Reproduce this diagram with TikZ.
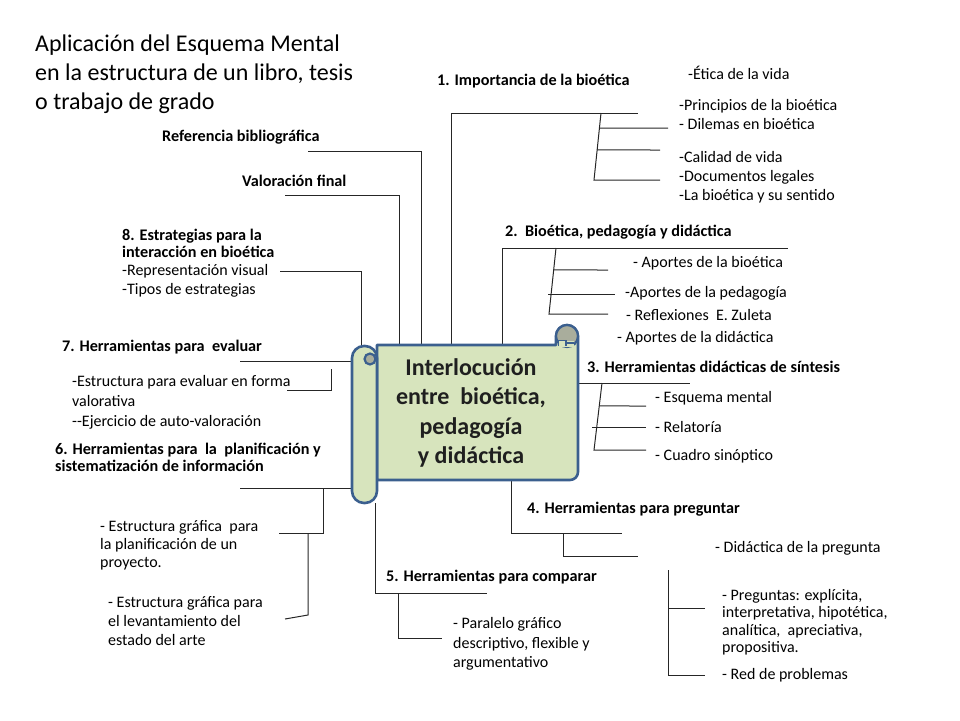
\documentclass[tikz,border=0pt]{standalone}
\usepackage{fontspec}
\setmainfont{Carlito}
\usetikzlibrary{calc}
\definecolor{panel}{HTML}{D7E4BD}
\definecolor{sborder}{HTML}{3B5F8E}
\definecolor{curlgray}{HTML}{A9AD9C}
\begin{document}
\begin{tikzpicture}[x=1pt,y=-1pt,
  conn/.style={draw=black!85,line width=1pt},
  lab/.style={font=\fontsize{16}{19}\selectfont,inner sep=0pt,anchor=west,align=left},
  blab/.style={lab,font=\bfseries\fontsize{16.2}{17.5}\selectfont},
  tit/.style={font=\fontsize{24}{29}\selectfont,inner sep=0pt,anchor=west,align=left},
  scrollpart/.style={fill=panel,draw=sborder,line width=2.6pt,line join=round},
  curlpart/.style={fill=curlgray,draw=sborder,line width=2.2pt}]
\useasboundingbox (0,0) rectangle (960,720);
% ---------- coordinates ----------
% branch 1
\coordinate (b1a) at (451,345); \coordinate (b1b) at (451,113); \coordinate (b1c) at (638,113);
\coordinate (s1t) at (601,113); \coordinate (s1b) at (594,180);
\coordinate (s1m1) at ($(s1t)!0.224!(s1b)$); \coordinate (s1m2) at ($(s1t)!0.552!(s1b)$);
\coordinate (e1a) at (668,128); \coordinate (e1b) at (660,150); \coordinate (e1c) at (660,180);
% branch 2
\coordinate (b2a) at (502,345); \coordinate (b2b) at (502,248); \coordinate (b2c) at (788,248);
\coordinate (s2t) at (556,248); \coordinate (s2b) at (549,314);
\coordinate (s2m1) at ($(s2t)!0.333!(s2b)$);
\coordinate (e2a) at (608,270); \coordinate (f2b) at (548,294); \coordinate (e2b) at (615,294); \coordinate (e2c) at (608,314);
% branch 3
\coordinate (b3a) at (578,383); \coordinate (b3b) at (690,383);
\coordinate (s3t) at (602,383); \coordinate (s3b) at (594,450);
\coordinate (s3m1) at ($(s3t)!0.343!(s3b)$);
\coordinate (e3a) at (646,406); \coordinate (f3b) at (592,427); \coordinate (e3b) at (646,427); \coordinate (e3c) at (646,450);
% branch 4
\coordinate (b4a) at (511,480); \coordinate (b4b) at (511,533); \coordinate (b4c) at (622,533);
\coordinate (s4a) at (563,533); \coordinate (s4b) at (563,556); \coordinate (s4c) at (638,556);
% branch 5
\coordinate (b5a) at (375,503); \coordinate (b5b) at (375,593); \coordinate (b5c) at (487,593);
\coordinate (s5a) at (398,593); \coordinate (s5b) at (398,638); \coordinate (s5c) at (442,638);
% branch 6
\coordinate (b6a) at (352,488); \coordinate (b6b) at (240,488);
\coordinate (s6a) at (323,488); \coordinate (s6b) at (323,533); \coordinate (s6c) at (279,533);
\coordinate (t6a) at (308,533); \coordinate (t6b) at (308,615); \coordinate (t6c) at (285,619);
% branch 7
\coordinate (b7a) at (352,361); \coordinate (b7b) at (240,361);
\coordinate (s7a) at (331,369); \coordinate (s7b) at (331,390); \coordinate (s7c) at (287,390);
% branch 8
\coordinate (b8a) at (361,345); \coordinate (b8b) at (361,271); \coordinate (b8c) at (280,271);
% valoracion, referencia
\coordinate (bva) at (399,345); \coordinate (bvb) at (399,195); \coordinate (bvc) at (285,195);
\coordinate (bra) at (421,345); \coordinate (brb) at (421,151); \coordinate (brc) at (308,151);
% preguntas bracket
\coordinate (pqa) at (668,570); \coordinate (pqb) at (668,675); \coordinate (pqc) at (705,675);
\coordinate (pqm) at (668,608); \coordinate (pqd) at (705,608);
% ---------- connectors ----------
\draw[conn] (b1a) -- (b1b) -- (b1c);
\draw[conn] (s1t) -- (s1b) -- (e1c);
\draw[conn] (s1m1) -- (e1a);
\draw[conn] (s1m2) -- (e1b);
\draw[conn] (b2a) -- (b2b) -- (b2c);
\draw[conn] (s2t) -- (s2b) -- (e2c);
\draw[conn] (s2m1) -- (e2a);
\draw[conn] (f2b) -- (e2b);
\draw[conn] (b3a) -- (b3b);
\draw[conn] (s3t) -- (s3b) -- (e3c);
\draw[conn] (s3m1) -- (e3a);
\draw[conn] (f3b) -- (e3b);
\draw[conn] (b4a) -- (b4b) -- (b4c);
\draw[conn] (s4a) -- (s4b) -- (s4c);
\draw[conn] (b5a) -- (b5b) -- (b5c);
\draw[conn] (s5a) -- (s5b) -- (s5c);
\draw[conn] (b6a) -- (b6b);
\draw[conn] (s6a) -- (s6b) -- (s6c);
\draw[conn] (t6a) -- (t6b) -- (t6c);
\draw[conn] (b7a) -- (b7b);
\draw[conn] (s7a) -- (s7b) -- (s7c);
\draw[conn] (b8a) -- (b8b) -- (b8c);
\draw[conn] (bva) -- (bvb) -- (bvc);
\draw[conn] (bra) -- (brb) -- (brc);
\draw[conn] (pqa) -- (pqb) -- (pqc);
\draw[conn] (pqm) -- (pqd);
% ---------- scroll ----------
\path[scrollpart] (377,345) -- (556,345) -- (556,336) arc[start angle=180,end angle=360,radius=11]
  -- (578,472) arc[start angle=0,end angle=90,radius=8] -- (377,480) -- cycle;
\path[curlpart] (567,336) circle[radius=11];
\path[fill=panel] (558.5,340.5) rectangle (574,347);
\draw[sborder,line width=1.6pt] (558.5,346) -- (558.5,340.5) -- (566,340.5) -- (566,346);
\draw[sborder,line width=1.6pt] (566,343) -- (574,343);
\path[scrollpart,rounded corners=12pt] (352,346) rectangle (377,503);
\path[curlpart] (370,359) circle[radius=5.5];
\node[font=\bfseries\fontsize{24}{29.5}\selectfont,align=center,inner sep=0pt,text=black!88] (center) at (471,413)
  {Interlocución\\entre\ \ bioética,\\pedagogía\\y didáctica};
% ---------- texts ----------
\node[tit] (title) at (35,74) {Aplicación del Esquema Mental\\en la estructura de un libro, tesis\\o trabajo de grado};
\node[blab] (ref) at (162,137) {Referencia bibliográfica};
\node[blab] (val) at (242,181) {Valoración final};
\node[blab] (n1) at (437,81) {1. Importancia de la bioética};
\node[blab] (n2) at (505,232) {2.\ \ Bioética, pedagogía y didáctica};
\node[blab] (n3) at (587,367) {3. Herramientas didácticas de síntesis};
\node[blab] (n4) at (527,509) {4. Herramientas para preguntar};
\node[blab] (n5) at (386,577) {5. Herramientas para comparar};
\node[blab] (n6) at (55,457.5) {6. Herramientas para\ \ la\ \ planificación y\\sistematización de información};
\node[blab] (n7) at (62,347) {7. Herramientas para\ \ evaluar};
\node[blab] (n8) at (122,243.5) {8. Estrategias para la\\interacción en bioética};
\node[lab] (l8) at (122,280.5) {-Representación visual\\-Tipos de estrategias};
\node[lab] (l0) at (688,73) {-Ética de la vida};
\node[lab] (l1a) at (679,114.5) {-Principios de la bioética\\- Dilemas en bioética};
\node[lab] (l1b) at (679,177) {-Calidad de vida\\-Documentos legales\\-La bioética y su sentido};
\node[lab] (l2a) at (633,263) {- Aportes de la bioética};
\node[lab] (l2b) at (625,293) {-Aportes de la pedagogía};
\node[lab] (l2c) at (626,315) {- Reflexiones\ \ E. Zuleta};
\node[lab] (l2d) at (617,338) {- Aportes de la didáctica};
\node[lab] (l3a) at (655,398) {- Esquema mental};
\node[lab] (l3b) at (655,427) {- Relatoría};
\node[lab] (l3c) at (655,456) {- Cuadro sinóptico};
\node[lab] (l4) at (715,548) {- Didáctica de la pregunta};
\node[lab,font=\fontsize{16}{17.5}\selectfont] (lp) at (722,622) {- Preguntas: explícita,\\interpretativa, hipotética,\\analítica,\ \ apreciativa,\\propositiva.};
\node[lab] (lr) at (722,675) {- Red de problemas};
\node[lab,font=\fontsize{16}{19.5}\selectfont] (l5) at (453,644) {- Paralelo gráfico\\descriptivo, flexible y\\argumentativo};
\node[lab,font=\fontsize{16}{18}\selectfont] (l6a) at (100,545) {- Estructura gráfica\ \ para\\la planificación de un\\proyecto.};
\node[lab] (l6b) at (108,621) {- Estructura gráfica para\\el levantamiento del\\estado del arte};
\node[lab,font=\fontsize{16}{20}\selectfont] (l7) at (72,402) {-Estructura para evaluar en forma\\valorativa\\-{}-Ejercicio de auto-valoración};
\end{tikzpicture}
\end{document}
